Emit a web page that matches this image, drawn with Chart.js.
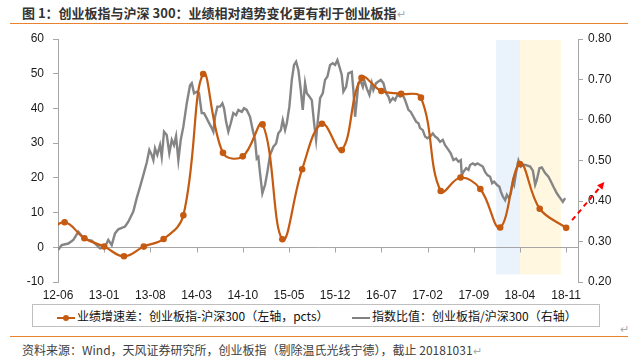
<!DOCTYPE html>
<html>
<head>
<meta charset="utf-8">
<script src="https://cdn.jsdelivr.net/npm/chart.js@4.4.1/dist/chart.umd.min.js"></script>
<style>
  body { margin: 0; width: 635px; height: 363px; background: #fff; position: relative; overflow: hidden;
         font-family: "Noto Sans CJK SC", "Liberation Sans", sans-serif; }
  #title { position: absolute; left: 22px; top: 3px; font-size: 13px; font-weight: bold; color: #333; white-space: nowrap; }
  .rule { position: absolute; left: 10px; width: 618px; height: 1px; background: #E8822E; }
  .ret { color: #aaa; font-weight: normal; font-size: 11px; }
  #chart { position: absolute; left: 0; top: 0; }
  #legend { position: absolute; left: 32px; top: 304px; width: 566px; height: 21px; border: 1px solid #BFBFBF;
            font-size: 12px; color: #111; white-space: nowrap; }
  .item { position: absolute; top: 2px; line-height: 17px; }
  .mk { display: inline-block; width: 18px; height: 2px; vertical-align: middle; position: relative; margin-right: 2px; }
  .dot { position: absolute; left: 6px; top: -2px; width: 6px; height: 6px; border-radius: 50%; background: #C55A11; }
  #foot { position: absolute; left: 22px; top: 341px; font-size: 12px; color: #404040; white-space: nowrap; }
</style>
</head>
<body>
<div id="title">图 1：创业板指与沪深 300：业绩相对趋势变化更有利于创业板指<span class="ret">↵</span></div>
<div class="rule" style="top:23px"></div>
<canvas id="chart" width="635" height="303"></canvas>
<div id="legend">
  <div class="item" style="left:24px"><span class="mk" style="background:#C55A11"><span class="dot"></span></span>业绩增速差：创业板指-沪深300（左轴，pcts）</div>
  <div class="item" style="left:319px"><span class="mk" style="background:#808080"></span>指数比值：创业板指/沪深300（右轴）</div>
</div>
<div class="ret" style="position:absolute;left:620px;top:320px">↵</div>
<div class="rule" style="top:336px"></div>
<div id="foot">资料来源：Wind，天风证券研究所，创业板指（剔除温氏光线宁德），截止 20181031<span class="ret">↵</span></div>

<script>
// x axis is in months counted from 2012-06
const xTickLabels = ['12-06','13-01','13-08','14-03','14-10','15-05','15-12','16-07','17-02','17-09','18-04','18-11']

// 业绩增速差 (left axis, pcts), quarterly
const spreadDates = ['2012-03','2012-06','2012-09','2012-12','2013-03','2013-06','2013-09','2013-12',
                     '2014-03','2014-06','2014-09','2014-12','2015-03','2015-06','2015-09','2015-12',
                     '2016-03','2016-06','2016-09','2016-12','2017-03','2017-06','2017-09','2017-12',
                     '2018-03','2018-06','2018-10']
const spreadValues = [3.5, 7.2, 2.6, 0.2, -2.6, 0.2, 2.4, 9.2,
                      49.9, 27.2, 26.2, 35.4, 2.3, 22.5, 35.6, 28.0,
                      48.8, 45.0, 44.2, 43.1, 16.2, 20.1, 16.8, 5.7,
                      24.0, 11.1, 5.6]

// 指数比值 (right axis)
const ratioMonth = [0,0.56,1.56,2.32,3.08,3.59,4.09,5.11,5.87,6.37,
  7.12,7.62,8.14,8.64,9.14,10.16,10.66,11.41,11.93,12.43,
  12.93,13.45,13.84,14.2,14.45,14.7,15.05,15.46,15.72,16.07,
  16.48,16.87,17.24,17.58,17.89,18.24,18.6,18.99,19.51,20.01,
  20.27,20.62,21.02,21.37,21.78,22.13,22.54,22.78,23.3,23.54,
  23.8,24.15,24.56,24.91,25.16,25.47,25.81,26.18,26.57,26.98,
  27.33,27.85,28.19,28.6,29.1,29.51,29.86,30.12,30.36,30.62,
  30.97,31.38,31.73,32.14,32.64,33.05,33.39,33.76,34.06,34.41,
  34.67,35.06,35.43,35.77,36.08,36.43,36.79,37.09,37.44,37.7,
  38.09,38.46,38.81,39.11,39.31,39.72,40.12,40.47,40.82,41.23,
  41.64,41.99,42.34,42.64,43.0,43.25,43.66,44.0,44.52,44.76,
  45.02,45.28,45.52,45.89,46.19,46.39,46.79,47.19,47.55,47.79,
  48.2,48.55,48.92,49.31,49.72,50.07,50.33,50.74,51.08,51.43,
  51.84,52.25,52.6,52.86,53.1,53.46,53.86,54.27,54.62,54.87,
  55.28,55.63,55.98,56.39,56.8,57.15,57.5,57.9,58.31,58.66,
  59.01,59.52,59.92,60.33,60.68,61.04,61.19,61.44,61.85,62.2,
  62.45,62.86,63.21,63.56,63.97,64.37,64.72,65.07,65.48,65.79,
  66.09,66.5,66.89,67.11,67.41,67.76,68.02,68.32,68.62,68.93,
  69.12,69.43,69.78,70.14,70.54,71.05,71.55,71.96,72.31,72.56,
  72.96,73.32,73.82,74.32,74.58,75.08,75.59,76.1,76.5,76.85]
const ratioValues = [0.279,0.291,0.295,0.304,0.324,0.314,0.305,0.302,0.291,0.283,
  0.287,0.304,0.291,0.320,0.330,0.337,0.349,0.374,0.407,0.435,
  0.464,0.495,0.526,0.514,0.501,0.530,0.514,0.538,0.509,0.571,
  0.563,0.518,0.551,0.538,0.560,0.501,0.551,0.583,0.641,0.686,
  0.691,0.666,0.670,0.666,0.617,0.617,0.604,0.596,0.580,0.571,
  0.608,0.633,0.633,0.641,0.629,0.596,0.571,0.592,0.617,0.612,
  0.625,0.620,0.629,0.625,0.608,0.575,0.551,0.505,0.509,0.468,
  0.419,0.440,0.472,0.514,0.534,0.542,0.567,0.575,0.600,0.575,
  0.592,0.633,0.699,0.736,0.744,0.723,0.674,0.625,0.691,0.666,
  0.658,0.649,0.592,0.551,0.588,0.654,0.666,0.699,0.707,0.736,
  0.740,0.736,0.748,0.732,0.711,0.670,0.682,0.715,0.719,0.674,
  0.608,0.649,0.691,0.695,0.682,0.699,0.678,0.662,0.691,0.674,
  0.691,0.695,0.699,0.691,0.666,0.658,0.645,0.654,0.649,0.662,
  0.658,0.662,0.649,0.637,0.625,0.620,0.608,0.596,0.592,0.580,
  0.575,0.559,0.555,0.559,0.567,0.559,0.555,0.546,0.551,0.538,
  0.530,0.518,0.501,0.505,0.497,0.501,0.464,0.472,0.481,0.477,
  0.489,0.493,0.489,0.493,0.489,0.485,0.472,0.464,0.460,0.444,
  0.448,0.440,0.435,0.423,0.411,0.402,0.415,0.407,0.419,0.448,
  0.440,0.472,0.500,0.485,0.490,0.488,0.485,0.475,0.440,0.452,
  0.481,0.483,0.469,0.460,0.452,0.435,0.419,0.407,0.398,0.407]

// shaded periods (months) and the dashed trend arrow (months, left-axis units)
const bands = [{from: 66.4, to: 70.0, color: '#EAF2FB'}, {from: 70.0, to: 76.2, color: '#FFF7DF'}]
const bandSpan = [-7.8, 59.7]
const arrowFrom = [77.9, 7.8]
const arrowTo = [82.8, 18.8]

function monthOf(d) {
    let p = d.split('-')
    return (Number(p[0]) - 2012) * 12 + (Number(p[1]) - 6) + 1
}

const axisGray = '#A6A6A6'
const tickFont = {family: 'Liberation Sans', size: 12}

const decor = {
    id: 'decor',
    beforeDraw(chart) {
        let c = chart.ctx, x = chart.scales.x, y = chart.scales.y
        let top = y.getPixelForValue(bandSpan[1]), bot = y.getPixelForValue(bandSpan[0])
        bands.forEach(function (b) {
            let l = x.getPixelForValue(b.from), r = x.getPixelForValue(b.to)
            c.fillStyle = b.color
            c.fillRect(l, top, r - l, bot - top)
        })
    },
    beforeDatasetsDraw(chart) {
        // tick marks hang from the zero line
        let c = chart.ctx, x = chart.scales.x, y0 = Math.round(chart.scales.y.getPixelForValue(0)) + 0.5
        c.save()
        c.strokeStyle = axisGray
        c.lineWidth = 1
        x.ticks.forEach(function (t) {
            let px = Math.round(x.getPixelForValue(t.value)) + 0.5
            c.beginPath()
            c.moveTo(px, y0)
            c.lineTo(px, y0 + 5)
            c.stroke()
        })
        c.restore()
    },
    afterDraw(chart) {
        let c = chart.ctx, x = chart.scales.x, y = chart.scales.y
        let x1 = x.getPixelForValue(arrowFrom[0]), y1 = y.getPixelForValue(arrowFrom[1])
        let x2 = x.getPixelForValue(arrowTo[0]), y2 = y.getPixelForValue(arrowTo[1])
        let a = Math.atan2(y2 - y1, x2 - x1)
        c.save()
        c.strokeStyle = '#FF0000'
        c.fillStyle = '#FF0000'
        c.lineWidth = 2
        c.setLineDash([5, 4])
        c.beginPath()
        c.moveTo(x1, y1)
        c.lineTo(x2 - 5 * Math.cos(a), y2 - 5 * Math.sin(a))
        c.stroke()
        c.setLineDash([])
        c.beginPath()
        c.moveTo(x2, y2)
        c.lineTo(x2 - 8 * Math.cos(a - 0.45), y2 - 8 * Math.sin(a - 0.45))
        c.lineTo(x2 - 8 * Math.cos(a + 0.45), y2 - 8 * Math.sin(a + 0.45))
        c.closePath()
        c.fill()
        c.restore()
    }
}

let ctx = document.getElementById('chart')
let chart = new Chart(ctx, {
    type: 'line',
    data: {
        datasets: [{
            label: '业绩增速差：创业板指-沪深300（左轴，pcts）',
            data: spreadDates.map((d, i) => ({x: monthOf(d), y: spreadValues[i]})),
            yAxisID: 'y',
            borderColor: '#C55A11',
            backgroundColor: '#C55A11',
            borderWidth: 2.2,
            pointRadius: 3.3,
            pointBorderWidth: 0,
            tension: 0.4
        }, {
            label: '指数比值：创业板指/沪深300（右轴）',
            data: ratioMonth.map((m, i) => ({x: m, y: ratioValues[i]})),
            yAxisID: 'y1',
            borderColor: '#858585',
            borderWidth: 2.4,
            pointRadius: 0,
            tension: 0
        }]
    },
    options: {
        responsive: false,
        animation: false,
        devicePixelRatio: 1,
        layout: {padding: {top: 39, left: 0, right: 0, bottom: 0}},
        plugins: {legend: {display: false}, tooltip: {enabled: false}},
        scales: {
            x: {
                type: 'linear', min: 0, max: 78.8,
                afterBuildTicks: function (s) { s.ticks = xTickLabels.map((t, i) => ({value: i * 7})) },
                afterFit: function (s) { s.height = 21 },
                grid: {display: false},
                border: {display: false},
                ticks: {
                    autoSkip: false, maxRotation: 0, padding: -2, font: tickFont, color: '#1a1a1a',
                    callback: v => xTickLabels[Math.round(v / 7)]
                }
            },
            y: {
                position: 'left', min: -10, max: 60,
                afterFit: function (s) { s.width = 58 },
                border: {color: axisGray, width: 1},
                grid: {
                    color: c => c.tick.value === 0 ? axisGray : 'rgba(0,0,0,0)',
                    tickColor: axisGray, tickLength: 5, lineWidth: 1
                },
                ticks: {stepSize: 10, padding: 9, font: tickFont, color: '#1a1a1a'}
            },
            y1: {
                position: 'right', min: 0.2, max: 0.8,
                afterFit: function (s) { s.width = 57 },
                border: {color: axisGray, width: 1},
                grid: {drawOnChartArea: false, tickColor: axisGray, tickLength: 5},
                ticks: {stepSize: 0.1, padding: 5, font: tickFont, color: '#1a1a1a', callback: v => v.toFixed(2)}
            }
        }
    },
    plugins: [decor]
})
</script>
</body>
</html>
